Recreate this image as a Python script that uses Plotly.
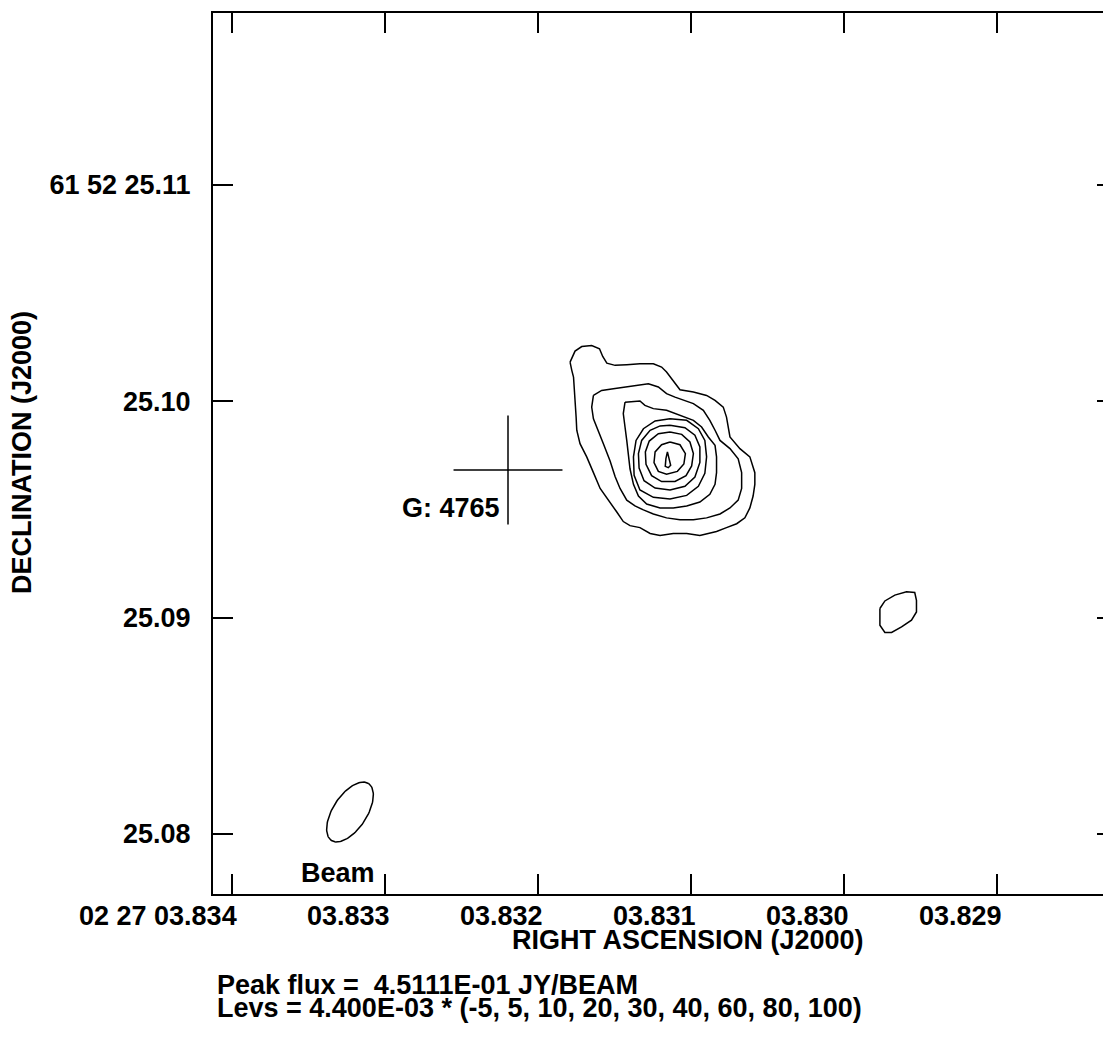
import numpy as np
import plotly.graph_objects as go

# map reference = peak pixel, RA 02 27 03.8311569  Dec 61 52 25.097413
ra0 = 3.8311569
dec0 = 25.097413
cos_dec = np.cos(np.radians(61 + 52 / 60 + 25.1 / 3600))

ra_ticks = [3.834, 3.833, 3.832, 3.831, 3.830, 3.829]
ra_ticktext = ['02 27 03.834', '03.833', '03.832', '03.831', '03.830', '03.829']
dec_ticks = [25.11, 25.10, 25.09, 25.08]
dec_ticktext = ['61 52 25.11', '25.10', '25.09', '25.08']

peak_flux = '4.5111E-01'
lev_unit = '4.400E-03'
levels = [-5, 5, 10, 20, 30, 40, 60, 80, 100]

# contours, offsets from ref in mas (east, north)
c5_e = [4.48, 4.25, 3.94, 3.48, 3.12, 2.97, 2.78, 2.40, 1.86, 1.25, 0.63, 0.25, 0.02, -0.37,
        -0.60, -1.22, -1.83, -2.22, -2.60, -2.75, -2.83, -2.91, -3.37, -3.83, -4.06, -4.06,
        -3.98, -3.83, -3.60, -3.22, -2.75, -2.29, -1.52, -0.91, -0.29, 0.32, 0.78, 1.25,
        1.71, 2.02, 2.32, 2.71, 3.09, 3.40, 3.71, 4.02, 4.17, 4.20, 4.25, 4.29, 4.32, 4.40]
c5_n = [4.40, 4.91, 5.12, 5.17, 5.02, 4.66, 4.35, 4.25, 4.28, 4.32, 4.32, 4.17, 3.94, 3.40,
        3.12, 3.02, 2.86, 2.63, 2.32, 1.86, 1.40, 0.94, 0.40, 0.02, -0.71, -1.25,
        -1.79, -2.34, -2.80, -3.07, -3.25, -3.43, -3.61, -3.52, -3.52, -3.61, -3.52, -3.25,
        -3.16, -2.97, -2.53, -1.98, -1.44, -0.71, 0.02, 0.63, 1.25, 1.86, 2.48, 3.09, 3.71, 4.02]

c5b_e = [-9.84, -10.07, -10.53, -11.07, -11.45, -11.53, -11.53, -11.30, -10.84, -10.38,
         -10.07, -9.84, -9.84]
c5b_n = [-6.99, -6.64, -6.37, -6.22, -6.25, -6.61, -7.15, -7.53, -7.84, -8.10,
         -8.10, -7.76, -7.38]

c10_e = [3.40, 3.02, 2.48, 1.86, 1.32, 0.86, 0.40, 0.02, -0.37, -0.75, -1.22, -1.68, -1.98,
         -2.22, -2.45, -2.91, -3.29, -3.45, -3.45, -3.29, -2.91, -2.45, -1.83, -1.22, -0.60,
         0.02, 0.63, 1.09, 1.48, 1.86, 2.17, 2.40, 2.63, 2.94, 3.17, 3.40, 3.48]
c10_n = [2.86, 3.09, 3.17, 3.25, 3.32, 3.40, 3.25, 2.94, 2.78, 2.63, 2.48, 2.17, 1.71,
         1.25, 0.78, 0.40, -0.07, -0.71, -1.44, -1.98, -2.34, -2.62, -2.80, -2.89, -2.89,
         -2.80, -2.62, -2.43, -2.25, -1.98, -1.44, -0.89, -0.17, 0.63, 1.25, 1.78, 2.32]

c20_e = [1.94, 1.25, 1.02, 0.63, 0.02, -0.60, -1.22, -1.60, -1.91, -2.22, -2.29, -2.29, -2.22,
         -1.98, -1.52, -0.91, -0.29, 0.32, 0.94, 1.32, 1.55, 1.71, 1.78, 1.86, 1.94, 2.02]
c20_n = [2.55, 2.60, 2.40, 2.25, 2.17, 1.94, 1.71, 1.40, 0.94, 0.55, 0.02, -0.71, -1.25,
         -1.71, -2.07, -2.25, -2.34, -2.34, -2.16, -1.79, -1.25, -0.53, 0.17, 0.78, 1.40, 2.02]

c30_e = [-0.14, -0.91, -1.45, -1.75, -1.83, -1.75, -1.45, -0.91, -0.14, 0.63, 1.25, 1.52,
         1.55, 1.43, 1.09, 0.55]
c30_n = [1.78, 1.71, 1.32, 0.78, 0.02, -0.74, -1.34, -1.76, -1.93, -1.85, -1.51, -0.83,
         0.02, 0.78, 1.32, 1.68]

c40_e = [-0.14, -0.83, -1.29, -1.52, -1.52, -1.29, -0.83, -0.14, 0.55, 1.06, 1.29, 1.32,
         1.17, 0.78, 0.32]
c40_n = [1.48, 1.37, 1.02, 0.48, -0.24, -0.91, -1.34, -1.51, -1.42, -1.08, -0.50, 0.17,
         0.78, 1.25, 1.45]

c60_e = [-0.14, -0.68, -1.06, -1.22, -1.14, -0.88, -0.37, 0.25, 0.71, 0.97, 1.00, 0.82, 0.40]
c60_n = [1.17, 1.06, 0.71, 0.17, -0.40, -0.85, -1.12, -1.12, -0.85, -0.32, 0.25, 0.75, 1.09]

c80_e = [-0.14, -0.60, -0.85, -0.78, -0.48, 0.02, 0.40, 0.60, 0.55, 0.25]
c80_n = [0.71, 0.58, 0.17, -0.31, -0.65, -0.78, -0.65, -0.24, 0.25, 0.58]

c100_e = [-0.02, -0.11, -0.17, -0.06, 0.08, 0.05]
c100_n = [0.25, -0.06, -0.37, -0.48, -0.42, -0.06]

contours = [(c5_e, c5_n), (c5b_e, c5b_n), (c10_e, c10_n), (c20_e, c20_n), (c30_e, c30_n),
            (c40_e, c40_n), (c60_e, c60_n), (c80_e, c80_n), (c100_e, c100_n)]

# catalogue source G: 4765 with position error bars
g_ra, g_dec = 3.8321961, 25.096828
g_err_ra, g_err_dec = 0.000356, 0.00252

# restoring beam (mas, deg)
beam_ra, beam_dec = 3.8332288, 25.081017
bmaj, bmin, bpa = 3.14, 1.57, -33.0


def to_radec(east, north):
    east = np.asarray(east + east[:1])
    north = np.asarray(north + north[:1])
    return ra0 + east / 1000 / (15 * cos_dec), dec0 + north / 1000


fig = go.Figure()

for e, n in contours:
    ra, dec = to_radec(e, n)
    fig.add_trace(go.Scatter(x=ra, y=dec, mode='lines', line=dict(color='black', width=1.5),
                             hoverinfo='skip'))

t = np.linspace(0, 2 * np.pi, 121)
pa = np.radians(bpa)
b_n = bmaj / 2 * np.cos(t) * np.cos(pa) - bmin / 2 * np.sin(t) * np.sin(pa)
b_e = bmaj / 2 * np.cos(t) * np.sin(pa) + bmin / 2 * np.sin(t) * np.cos(pa)
fig.add_trace(go.Scatter(
    x=beam_ra + b_e / 1000 / (15 * cos_dec), y=beam_dec + b_n / 1000,
    mode='lines', line=dict(color='black', width=1.5), hoverinfo='skip'))

fig.add_trace(go.Scatter(
    x=[g_ra], y=[g_dec], mode='markers', marker=dict(size=1, color='black'),
    error_x=dict(type='constant', value=g_err_ra, width=0, thickness=1.5, color='black'),
    error_y=dict(type='constant', value=g_err_dec, width=0, thickness=1.5, color='black'),
    hoverinfo='skip'))

# right-hand ticks
fig.add_trace(go.Scatter(x=[None], y=[None], yaxis='y2', hoverinfo='skip'))

axis_style = dict(showgrid=False, zeroline=False, ticks='inside', ticklen=20, tickwidth=1.5,
                  tickcolor='black', linecolor='black', linewidth=2)
y_range = [25.077226, 25.117951]

# page has an 8px body margin, so the figure is 8px smaller than the window
fig.update_layout(
    width=1103, height=1034,
    margin=dict(l=205, r=0, t=5, b=148),
    paper_bgcolor='white', plot_bgcolor='white',
    showlegend=False,
    font=dict(family='Liberation Sans, Arial, sans-serif', size=27, color='black', weight='bold'),
    xaxis=dict(range=[3.8341242, 3.8282549], tickvals=ra_ticks, showticklabels=False,
               showline=True, mirror='ticks', **axis_style),
    yaxis=dict(range=y_range, tickvals=dec_ticks, ticktext=dec_ticktext,
               showline=True, mirror=False, ticklabelstandoff=15, **axis_style),
    yaxis2=dict(range=y_range, overlaying='y', side='right', tickvals=dec_ticks,
                showticklabels=False, showline=False, showgrid=False, zeroline=False,
                ticks='inside', ticklen=14, tickwidth=1.5, tickcolor='black'),
)

for v, txt in zip(ra_ticks, ra_ticktext):
    fig.add_annotation(x=v, xref='x', y=0, yref='paper', text=txt, showarrow=False,
                       xanchor='right', yanchor='middle', xshift=7, yshift=-22)

fig.add_annotation(x=g_ra, y=g_dec, text='G: 4765', showarrow=False,
                   xanchor='right', yanchor='middle', xshift=-6, yshift=-38)
fig.add_annotation(x=beam_ra, y=beam_dec, text='Beam', showarrow=False,
                   xanchor='center', yanchor='middle', xshift=-12, yshift=-61)

fig.add_annotation(x=0.529, y=-0.0522, xref='paper', yref='paper', text='RIGHT ASCENSION (J2000)',
                   showarrow=False, xanchor='center', yanchor='middle')
fig.add_annotation(x=-0.2127, y=0.5017, xref='paper', yref='paper', text='DECLINATION (J2000)',
                   textangle=-90, showarrow=False, xanchor='center', yanchor='middle')
fig.add_annotation(x=0.002, y=-0.1033, xref='paper', yref='paper',
                   text='Peak flux =\u00a0 ' + peak_flux + ' JY/BEAM',
                   showarrow=False, xanchor='left', yanchor='middle')
fig.add_annotation(x=0.002, y=-0.1294, xref='paper', yref='paper',
                   text='Levs = ' + lev_unit + ' * (' + ', '.join(str(l) for l in levels) + ')',
                   showarrow=False, xanchor='left', yanchor='middle')

fig.write_html("out.html")
